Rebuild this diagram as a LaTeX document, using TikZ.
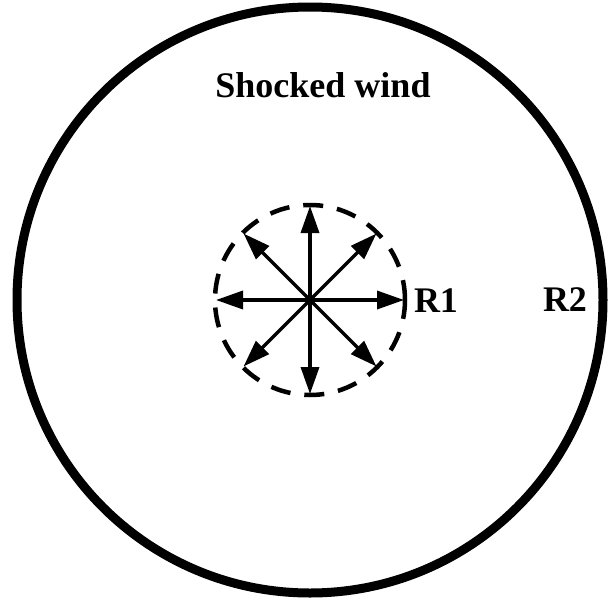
\documentclass[tikz,border=0pt]{standalone}
\usepackage{fontspec}
\setmainfont{Liberation Serif}
\usetikzlibrary{arrows.meta,calc}
\tikzset{
  outer/.style={line width=9pt},
  inner/.style={line width=4.5pt, dash pattern=on 20pt off 14pt},
  ray/.style={line width=3.5pt, -{Triangle[length=27pt,width=18pt]}},
  lbl/.style={font=\fontsize{36}{36}\selectfont\bfseries, inner sep=0pt, anchor=base}
}
\begin{document}
\begin{tikzpicture}[x=1pt,y=-1pt]
\useasboundingbox (0,0) rectangle (611,600);
\coordinate (c) at (310,300);
\draw[outer] (c) circle[radius=293pt];
\draw[inner] (c) circle[radius=95pt];
\foreach \a in {0,45,...,315}{
  \coordinate (t\a) at ($(c)+(\a:94)$);
}
\foreach \a in {0,45,...,315}{
  \draw[ray] (c) -- (t\a);
}
\node[lbl] (sw) at (323,97) {Shocked wind};
\node[lbl] (r1) at (436,312) {R1};
\node[lbl] (r2) at (565,311) {R2};
\end{tikzpicture}
\end{document}
